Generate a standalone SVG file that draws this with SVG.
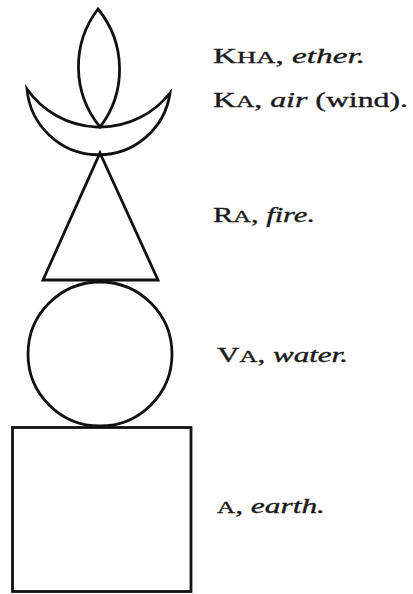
<svg xmlns="http://www.w3.org/2000/svg" width="413" height="594" viewBox="0 0 413 594">
<style>
.s{fill:none;stroke:#111;stroke-width:2.8;stroke-linejoin:miter}
.t{font-family:"Liberation Serif",serif;font-size:20px;fill:#1a1a1a;stroke:#1a1a1a;stroke-width:0.35}
.sc{font-size:16px}
.i{font-style:italic}
</style>
<rect width="413" height="594" fill="#fff"/>
<g id="ether"><path class="s" d="M98,9 A95,95 0 0 0 100,127 A95,95 0 0 0 98,9 Z"/></g>
<g id="air"><path class="s" d="M27,89 A72,72 0 0 0 170,93 A89,89 0 0 1 27,89 Z"/></g>
<g id="fire"><path class="s" d="M100,153 L158,280 L43,280 Z"/></g>
<g id="water"><circle class="s" cx="100" cy="354" r="72"/></g>
<g id="earth"><rect class="s" x="12.5" y="427.5" width="178.5" height="164"/></g>
<g id="labels">
<text class="t" x="213" y="63" textLength="152" lengthAdjust="spacingAndGlyphs">K<tspan class="sc">HA</tspan>, <tspan class="i">ether.</tspan></text>
<text class="t" x="213" y="107" textLength="195" lengthAdjust="spacingAndGlyphs">K<tspan class="sc">A</tspan>, <tspan class="i">air</tspan> (wind).</text>
<text class="t" x="213" y="222" textLength="102" lengthAdjust="spacingAndGlyphs">R<tspan class="sc">A</tspan>, <tspan class="i">fire.</tspan></text>
<text class="t" x="217" y="362" textLength="131" lengthAdjust="spacingAndGlyphs">V<tspan class="sc">A</tspan>, <tspan class="i">water.</tspan></text>
<text class="t" x="217" y="513" textLength="108" lengthAdjust="spacingAndGlyphs"><tspan class="sc">A</tspan>, <tspan class="i">earth.</tspan></text>
</g>
</svg>
